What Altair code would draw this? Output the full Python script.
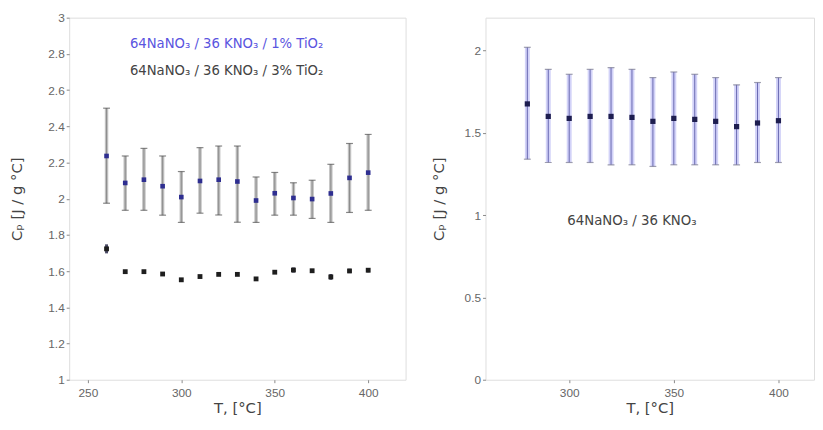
import altair as alt
import pandas as pd

# ---------------- data ----------------
T_LEFT = [260, 270, 280, 290, 300, 310, 320, 330, 340, 350, 360, 370, 380, 390, 400]
CP3_MEAN = [2.236, 2.087, 2.105, 2.069, 2.009, 2.098, 2.105, 2.095, 1.990, 2.030, 2.004, 1.998, 2.029, 2.115, 2.144]
CP3_HI = [2.500, 2.236, 2.278, 2.236, 2.150, 2.282, 2.291, 2.291, 2.120, 2.145, 2.088, 2.102, 2.190, 2.305, 2.355]
CP3_LO = [1.975, 1.936, 1.936, 1.909, 1.869, 1.920, 1.910, 1.870, 1.869, 1.909, 1.909, 1.891, 1.869, 1.924, 1.936]

CP1_MEAN = [1.723, 1.597, 1.597, 1.584, 1.552, 1.570, 1.582, 1.582, 1.557, 1.594, 1.606, 1.602, 1.568, 1.601, 1.605]
CP1_ERR = [0.025, 0.006, 0.006, 0.008, 0.006, 0.006, 0.008, 0.006, 0.006, 0.008, 0.014, 0.010, 0.016, 0.012, 0.012]

T_RIGHT = [280, 290, 300, 310, 320, 330, 340, 350, 360, 370, 380, 390, 400]
BASE_MEAN = [1.676, 1.600, 1.588, 1.600, 1.600, 1.594, 1.570, 1.588, 1.582, 1.570, 1.538, 1.560, 1.574]
BASE_HI = [2.020, 1.886, 1.856, 1.886, 1.896, 1.886, 1.836, 1.870, 1.856, 1.836, 1.792, 1.806, 1.836]
BASE_LO = [1.340, 1.320, 1.320, 1.320, 1.306, 1.306, 1.296, 1.306, 1.306, 1.306, 1.306, 1.320, 1.320]

LEFT_X_DOMAIN = [240, 420]
LEFT_Y_DOMAIN = [1, 3]
LEFT_X_TICKS = [250, 300, 350, 400]
LEFT_Y_TICKS = [1, 1.2, 1.4, 1.6, 1.8, 2, 2.2, 2.4, 2.6, 2.8, 3]
RIGHT_X_DOMAIN = [260, 417]
RIGHT_Y_DOMAIN = [0, 2.2]
RIGHT_X_TICKS = [300, 350, 400]
RIGHT_Y_TICKS = [0, 0.5, 1, 1.5, 2]

LEFT_LABELS = ["64NaNO\u2083 / 36 KNO\u2083 / 1% TiO\u2082", "64NaNO\u2083 / 36 KNO\u2083 / 3% TiO\u2082"]
LEFT_LABEL_X = [272.5, 272.5]
LEFT_LABEL_Y = [2.853, 2.707]
LEFT_LABEL_COLORS = ["#5a55e0", "#444444"]
RIGHT_LABEL = ["64NaNO\u2083 / 36 KNO\u2083"]
RIGHT_LABEL_X = [330]
RIGHT_LABEL_Y = [0.965]

X_TITLE = "T, [\u00b0C]"
Y_TITLE = "C\u209a [J / g \u00b0C]"

FONT = "Liberation Sans"
TFONT = "DejaVu Sans"

# ---------------- tables ----------------
df3 = pd.DataFrame({"T": T_LEFT, "mean": CP3_MEAN, "lo": CP3_LO, "hi": CP3_HI})
df1 = pd.DataFrame({"T": T_LEFT, "mean": CP1_MEAN})
df1["lo"] = df1["mean"] - pd.Series(CP1_ERR)
df1["hi"] = df1["mean"] + pd.Series(CP1_ERR)
dfb = pd.DataFrame({"T": T_RIGHT, "mean": BASE_MEAN, "lo": BASE_LO, "hi": BASE_HI})
dfl = pd.DataFrame({"T": LEFT_LABEL_X, "y": LEFT_LABEL_Y, "label": LEFT_LABELS, "color": LEFT_LABEL_COLORS})
dfr = pd.DataFrame({"T": RIGHT_LABEL_X, "y": RIGHT_LABEL_Y, "label": RIGHT_LABEL})


def axes(xdom, ydom, xticks, yticks, title_pad):
    x_axis = alt.Axis(values=xticks, title=X_TITLE, grid=False, domain=False,
                      tickSize=3, tickColor="#888888", labelPadding=5,
                      labelFont=FONT, labelFontSize=12, labelColor="#666666",
                      titleFont=TFONT, titleFontSize=15, titleColor="#444444",
                      titleFontWeight="normal", titlePadding=2)
    y_axis = alt.Axis(values=yticks, title=Y_TITLE, grid=False, domain=False, format="~g",
                      tickSize=3, tickColor="#888888", labelPadding=2,
                      labelFont=FONT, labelFontSize=12, labelColor="#666666",
                      titleFont=TFONT, titleFontSize=15, titleColor="#444444",
                      titleFontWeight="normal", titlePadding=title_pad)
    xs = alt.Scale(domain=xdom, nice=False, zero=False)
    ys = alt.Scale(domain=ydom, nice=False, zero=False)
    return x_axis, y_axis, xs, ys


# ---------------- left panel ----------------
lxa, lya, lxs, lys = axes(LEFT_X_DOMAIN, LEFT_Y_DOMAIN, LEFT_X_TICKS, LEFT_Y_TICKS, 24)
LX = alt.X("T:Q", scale=lxs, axis=lxa)


def ybar(field):
    return alt.Y(f"{field}:Q", scale=lys, axis=lya)


bar3_wide = alt.Chart(df3).mark_rule(strokeWidth=3.5, color="#c0c0c0").encode(x=LX, y=ybar("lo"), y2="hi")
bar3_line = alt.Chart(df3).mark_rule(strokeWidth=1, color="#8c8c8c").encode(x=LX, y=ybar("lo"), y2="hi")
cap3_hi = alt.Chart(df3).mark_tick(orient="horizontal", size=7, thickness=1.2, color="#555555").encode(x=LX, y=ybar("hi"))
cap3_lo = alt.Chart(df3).mark_tick(orient="horizontal", size=7, thickness=1.2, color="#555555").encode(x=LX, y=ybar("lo"))
pts3 = alt.Chart(df3).mark_square(size=22, color="#2e2e90", opacity=1).encode(x=LX, y=ybar("mean"))

bar1 = alt.Chart(df1).mark_rule(strokeWidth=3, color="#4a4a66").encode(x=LX, y=ybar("lo"), y2="hi")
pts1 = alt.Chart(df1).mark_square(size=24, color="#1e1e1e", opacity=1).encode(x=LX, y=ybar("mean"))

txt_left = alt.Chart(dfl).mark_text(align="left", baseline="middle", font=TFONT, fontSize=13.4).encode(
    x=LX, y=ybar("y"), text="label:N", color=alt.Color("color:N", scale=None))

left = alt.layer(bar3_wide, bar3_line, cap3_hi, cap3_lo, pts3, bar1, pts1, txt_left).properties(
    width=341, height=367)

# ---------------- right panel ----------------
rxa, rya, rxs, rys = axes(RIGHT_X_DOMAIN, RIGHT_Y_DOMAIN, RIGHT_X_TICKS, RIGHT_Y_TICKS, 18)
RX = alt.X("T:Q", scale=rxs, axis=rxa)


def ybar_r(field):
    return alt.Y(f"{field}:Q", scale=rys, axis=rya)


barb_wide = alt.Chart(dfb).mark_rule(strokeWidth=5, color="#d2d2f8").encode(x=RX, y=ybar_r("lo"), y2="hi")
barb_line = alt.Chart(dfb).mark_rule(strokeWidth=1, color="#6868b0").encode(x=RX, y=ybar_r("lo"), y2="hi")
capb_hi = alt.Chart(dfb).mark_tick(orient="horizontal", size=7, thickness=1.2, color="#77778f").encode(x=RX, y=ybar_r("hi"))
capb_lo = alt.Chart(dfb).mark_tick(orient="horizontal", size=7, thickness=1.2, color="#77778f").encode(x=RX, y=ybar_r("lo"))
ptsb = alt.Chart(dfb).mark_square(size=28, color="#1e1e50", opacity=1).encode(x=RX, y=ybar_r("mean"))
txt_right = alt.Chart(dfr).mark_text(align="center", baseline="middle", font=TFONT, fontSize=13.5, color="#444444").encode(
    x=RX, y=ybar_r("y"), text="label:N")

right = alt.layer(barb_wide, barb_line, capb_hi, capb_lo, ptsb, txt_right).properties(width=333, height=367)

chart = alt.hconcat(left, right, spacing=24).properties(
    padding={"left": 0, "top": 0, "right": 0, "bottom": 0}
).configure_view(stroke="#8a8a8a", strokeWidth=1.2).configure(background="white")

chart.save("out.html", embed_options={"renderer": "svg", "actions": False})
